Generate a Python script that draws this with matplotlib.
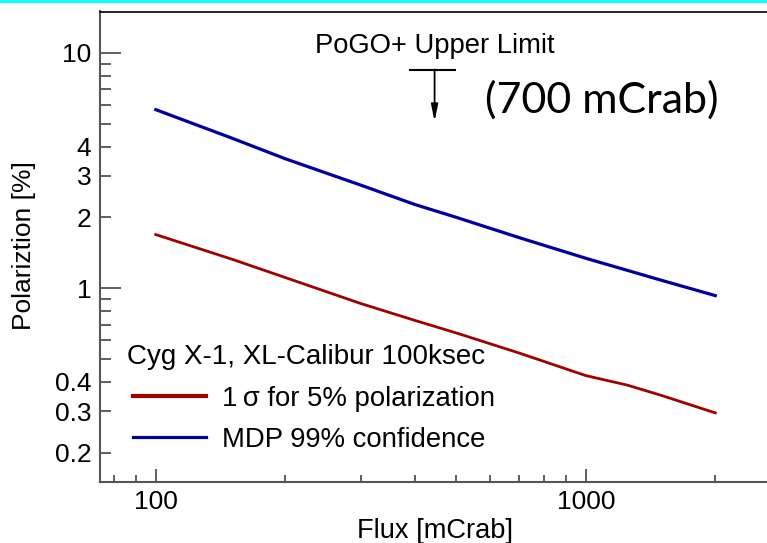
import matplotlib
matplotlib.use("Agg")
import matplotlib.pyplot as plt
import matplotlib.ticker as mtick
from matplotlib.lines import Line2D

# values
flux = [100, 150, 200, 300, 400, 500, 700, 1000, 1250, 1500, 2000]
sigma_pol = [1.69, 1.33, 1.11, 0.86, 0.73, 0.645, 0.53, 0.425, 0.387, 0.35, 0.295]
mdp_99 = [5.74, 4.35, 3.55, 2.74, 2.27, 2.00, 1.64, 1.34, 1.19, 1.08, 0.93]

# PoGO+ upper limit marker
pogo_flux = 445
pogo_limit = 8.5
pogo_arrow_end = 5.1
pogo_bar = [390, 496]

y_major = [1, 10]
y_minor_labeled = [0.2, 0.3, 0.4, 2, 3, 4]

plt.rcParams['font.family'] = ['Liberation Sans', 'DejaVu Sans']

W, H = 767, 543
fig = plt.figure(figsize=(W / 100, H / 100), dpi=100)

# axes runs past the right edge like in the cropped slide
ax = fig.add_axes([99.5 / W, (H - 482) / H, 691.5 / W, 470.5 / H])
ax.set_xscale("log")
ax.set_yscale("log")
ax.set_xlim(74, 3000)
ax.set_ylim(0.15, 15)

red = "#a00000"
blue = "#0000a0"
ax.plot(flux, sigma_pol, color=red, lw=2)
ax.plot(flux, mdp_99, color=blue, lw=2.3)

# upper limit
ax.plot(pogo_bar, [pogo_limit, pogo_limit], color="black", lw=1.5)
ax.annotate("", xy=(pogo_flux, pogo_arrow_end), xytext=(pogo_flux, pogo_limit),
            arrowprops=dict(arrowstyle="-|>,head_width=0.2,head_length=1.0",
                            lw=1.3, color="black", shrinkA=0, shrinkB=0))

# ticks
ax.yaxis.set_major_locator(mtick.FixedLocator(y_major))
ax.yaxis.set_major_formatter(mtick.FixedFormatter(["1", "10"]))
ax.yaxis.set_minor_locator(mtick.LogLocator(base=10, subs=range(2, 10), numticks=20))


def minor_fmt(v, pos):
    for t in y_minor_labeled:
        if abs(v - t) / t < 1e-6:
            return f"{t:g}"
    return ""


ax.yaxis.set_minor_formatter(mtick.FuncFormatter(minor_fmt))
ax.xaxis.set_major_locator(mtick.FixedLocator([100, 1000]))
ax.xaxis.set_major_formatter(mtick.FixedFormatter(["100", "1000"]))
ax.xaxis.set_minor_locator(mtick.LogLocator(base=10, subs=range(2, 10), numticks=20))
ax.xaxis.set_minor_formatter(mtick.NullFormatter())

tc = "#444444"
ax.tick_params(axis="y", which="major", direction="in", length=15, width=1.2,
               color=tc, labelsize=19, pad=6)
ax.tick_params(axis="y", which="minor", direction="in", length=8, width=1.2,
               color=tc, labelsize=19, pad=6)
ax.tick_params(axis="x", which="major", direction="in", length=9.5, width=1.2,
               color=tc, labelsize=19, pad=6)
ax.tick_params(axis="x", which="minor", direction="in", length=5, width=1.2,
               color=tc)

for s in ["left", "bottom"]:
    ax.spines[s].set_color("#555555")
    ax.spines[s].set_linewidth(1.5)
ax.spines["top"].set_color("black")
ax.spines["top"].set_linewidth(1.2)
ax.spines["right"].set_visible(False)

# legend (title drawn separately so the handles can be indented)
fig.text(127 / W, 1 - 357 / H, "Cyg X-1, XL-Calibur 100ksec", ha="left",
         va="center", fontsize=20)
handles = [Line2D([], [], color=red, lw=3), Line2D([], [], color=blue, lw=2.3)]
labels = ["1\u2009σ for 5% polarization", "MDP 99% confidence"]
ax.legend(handles, labels, loc="upper left", bbox_to_anchor=(133 / W, 1 - 386 / H),
          bbox_transform=fig.transFigure, frameon=False, fontsize=19.8,
          handlelength=2.65, handletextpad=0.58, labelspacing=0.54,
          borderpad=0, borderaxespad=0)

# texts
fig.text(435 / W, 1 - 46 / H, "PoGO+ Upper Limit", ha="center", va="center", fontsize=19.7)
fig.text(602 / W, 1 - 100 / H, "(700 mCrab)", ha="center", va="center",
         fontsize=31, family=["Lato", "DejaVu Sans"])
fig.text(435 / W, 1 - 531 / H, "Flux [mCrab]", ha="center", va="center", fontsize=19.6)
fig.text(24 / W, 1 - 246 / H, "Polariztion [%]", ha="center", va="center",
         rotation=90, fontsize=19)

# thin cyan strip on top of the slide
fig.add_artist(Line2D([0, 1], [1 - 1 / H, 1 - 1 / H], color="cyan", lw=2,
                      transform=fig.transFigure))

fig.savefig("out.png", dpi=100)
